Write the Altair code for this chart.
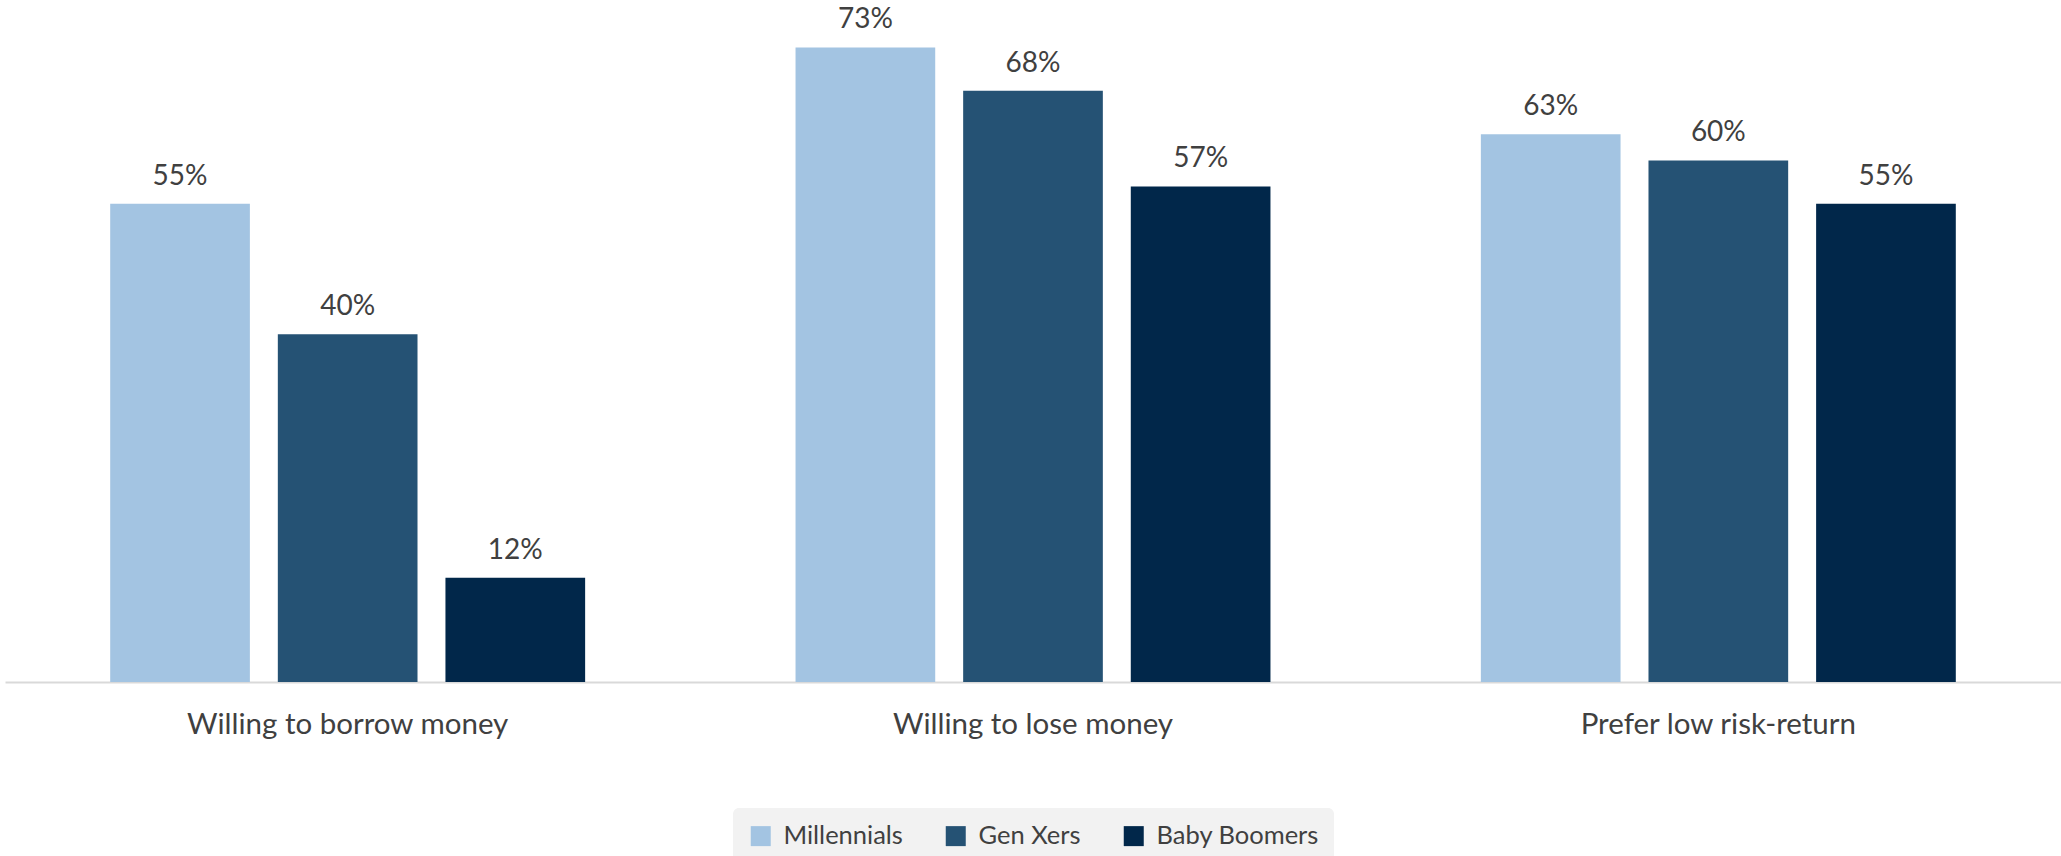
import altair as alt
import pandas as pd

categories = ["Willing to borrow money", "Willing to lose money", "Prefer low risk-return"]
generations = ["Millennials", "Gen Xers", "Baby Boomers"]
millennials = [55, 73, 63]
gen_xers = [40, 68, 60]
baby_boomers = [12, 57, 55]
colors = ["#a3c4e2", "#255274", "#01274a"]

rows = []
for series, vals in zip(generations, [millennials, gen_xers, baby_boomers]):
    for c, v in zip(categories, vals):
        rows.append({"category": c, "generation": series, "value": v, "label": f"{v}%"})
df = pd.DataFrame(rows)

TEXT = "#404040"
FONT = "Lato"

x = alt.X(
    "category:N",
    sort=categories,
    scale=alt.Scale(paddingInner=0.307, paddingOuter=0.1535),
    axis=alt.Axis(
        title=None, labelAngle=0, labelFont=FONT, labelFontSize=29.5, labelColor=TEXT,
        labelPadding=51, labelBaseline="alphabetic", ticks=False, tickSize=0,
        domainColor="#d9d9d9", domainWidth=2, grid=False, labelLimit=1000,
    ),
)
xo = alt.XOffset("generation:N", sort=generations,
                 scale=alt.Scale(paddingInner=0.1667, paddingOuter=0))
y = alt.Y("value:Q", scale=alt.Scale(domain=[0, 75], nice=False, zero=True), axis=None)
color = alt.Color(
    "generation:N",
    sort=generations,
    scale=alt.Scale(domain=generations, range=colors),
    legend=alt.Legend(
        title=None, orient="none", legendX=728, legendY=778, direction="horizontal",
        fillColor="#f2f2f2", cornerRadius=6, padding=15, symbolType="square",
        symbolSize=400, symbolStrokeWidth=0, labelFont=FONT, labelFontSize=25.5,
        labelColor=TEXT, labelOffset=10, columnPadding=40, labelLimit=1000,
    ),
)

bars = alt.Chart().mark_bar().encode(x=x, xOffset=xo, y=y, color=color)
labels = alt.Chart().mark_text(
    dy=-19, baseline="alphabetic", font=FONT, fontSize=28, color=TEXT
).encode(x=x, xOffset=xo, y=y, text="label:N")

chart = alt.layer(bars, labels, data=df).properties(
    width=2056, height=652,
    autosize=alt.AutoSizeParams(type="none"),
    padding={"left": 5, "top": 30, "right": 0, "bottom": 174},
    background="white",
).configure_view(stroke=None)

chart.save("out.html", embed_options={"renderer": "svg", "actions": False})
